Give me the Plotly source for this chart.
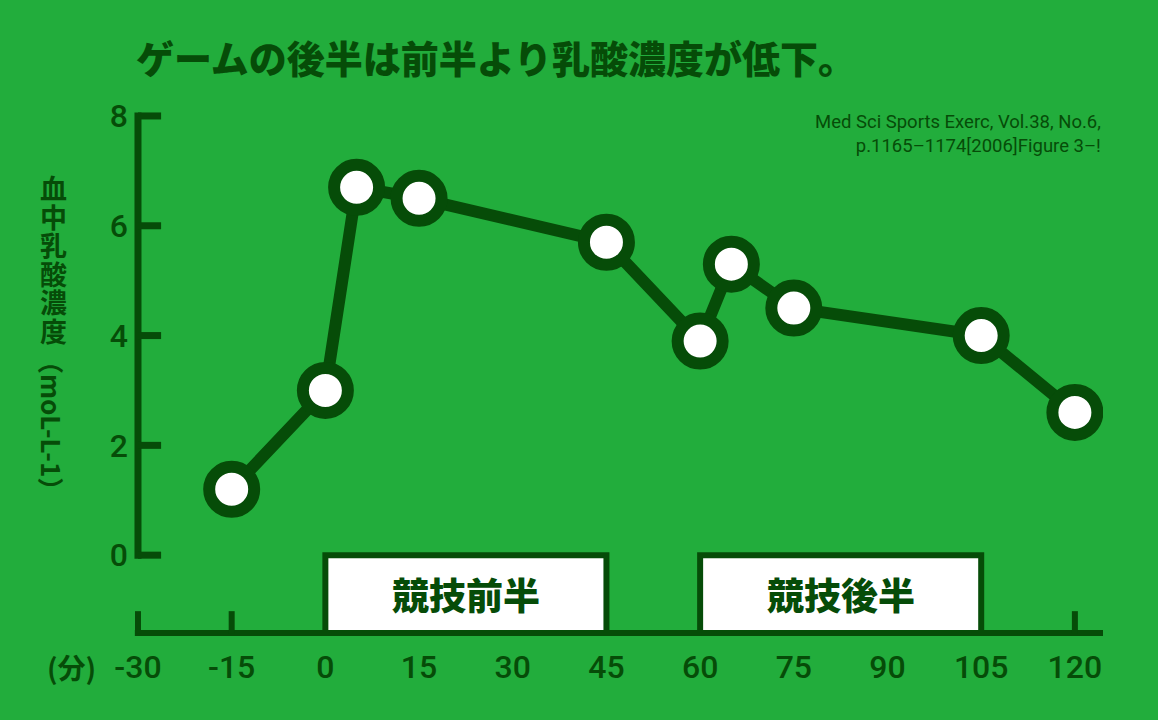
import plotly.graph_objects as go

# ---- data ----
minutes = [-15, 0, 5, 15, 45, 60, 65, 75, 105, 120]
lactate = [1.2, 3.0, 6.7, 6.5, 5.7, 3.9, 5.3, 4.5, 4.0, 2.6]

x_tickvals = [-30, -15, 0, 15, 30, 45, 60, 75, 90, 105, 120]
x_ticktext = ["-30", "-15", "0", "15", "30", "45", "60", "75", "90", "105", "120"]
x_tickmarks = [-30, -15, 120]
y_tickvals = [0, 2, 4, 6, 8]
y_ticktext = ["0", "2", "4", "6", "8"]

periods = [(0, 45, "競技前半"), (60, 105, "競技後半")]

title_text = "ゲームの後半は前半より乳酸濃度が低下。"
source_text = "Med Sci Sports Exerc, Vol.38, No.6,<br>p.1165–1174[2006]Figure 3–!"
ylabel_chars = "血中乳酸濃度"
ylabel_unit = "（moL-L-1）"
xunit_text = "(分)"

# ---- style ----
BG = "#22ad3c"
DARK = "#064c08"
CJK = "Noto Sans CJK JP"
NUM = "Roboto, sans-serif"

x_axis_y = -1.42
x_max = 124.5

fig = go.Figure()

shapes = []
# y axis line
shapes.append(dict(type="line", xref="x", yref="y", x0=-30, x1=-30, y0=-0.065, y1=8.065,
                   line=dict(color=DARK, width=7)))
for v in y_tickvals:
    shapes.append(dict(type="line", xref="x", yref="y", x0=-30, x1=-26.3, y0=v, y1=v,
                       line=dict(color=DARK, width=7)))
# period boxes
for a, b, lab in periods:
    shapes.append(dict(type="rect", xref="x", yref="y", x0=a, x1=b, y0=x_axis_y, y1=0,
                       fillcolor="white", line=dict(color=DARK, width=6), layer="below"))
# x axis line
shapes.append(dict(type="line", xref="x", yref="y", x0=-30.5, x1=x_max, y0=x_axis_y, y1=x_axis_y,
                   line=dict(color=DARK, width=6)))
for v in x_tickmarks:
    shapes.append(dict(type="line", xref="x", yref="y", x0=v, x1=v, y0=x_axis_y, y1=-1.02,
                       line=dict(color=DARK, width=6)))

fig.add_trace(go.Scatter(
    x=minutes, y=lactate, mode="lines+markers",
    line=dict(color=DARK, width=12),
    marker=dict(size=45, color="white", line=dict(color=DARK, width=12)),
    hoverinfo="x+y", showlegend=False,
))

annotations = []
for a, b, lab in periods:
    annotations.append(dict(x=(a + b) / 2, y=x_axis_y / 2, xref="x", yref="y", text=lab,
                            showarrow=False, font=dict(family=CJK, size=37, color=DARK, weight=900)))
# y label (vertical, stacked characters)
ylabel_html = "<br>".join(f"<span style='font-size:27px'>{c}</span>" for c in ylabel_chars)
annotations.append(dict(x=0, y=1, xref="paper", yref="paper", xshift=-60, yshift=-165,
                        text=ylabel_html, showarrow=False, xanchor="center", yanchor="middle",
                        font=dict(family=CJK, size=22, color=DARK, weight="bold")))
annotations.append(dict(x=0, y=1, xref="paper", yref="paper", xshift=-60, yshift=-331,
                        text=ylabel_unit, textangle=90, showarrow=False, xanchor="center", yanchor="middle",
                        font=dict(family=CJK, size=26, color=DARK, weight="bold")))
# x unit
annotations.append(dict(x=0, y=0, xref="paper", yref="paper", xshift=-42, yshift=-24,
                        text=xunit_text, showarrow=False, xanchor="center", yanchor="middle",
                        font=dict(family=CJK, size=28, color=DARK, weight="bold")))
# source
annotations.append(dict(x=1, y=1, xref="paper", yref="paper", yshift=-40, xanchor="right", yanchor="middle",
                        align="right", text=source_text, showarrow=False,
                        font=dict(family=NUM, size=18.5, color=DARK)))

fig.update_layout(
    width=1158, height=720,
    paper_bgcolor=BG, plot_bgcolor=BG,
    margin=dict(l=113, r=55, t=94, b=77),
    shapes=shapes, annotations=annotations,
    title=dict(text=title_text, xref="container", yref="container", x=136 / 1158, xanchor="left",
               y=1 - 60 / 720, yanchor="middle",
               font=dict(family=CJK, size=38, color=DARK, weight=900)),
    xaxis=dict(range=[-34, x_max], tickvals=x_tickvals, ticktext=x_ticktext, showgrid=False,
               zeroline=False, showline=False, ticks="", ticklabelstandoff=2,
               tickfont=dict(family=NUM, size=32, color=DARK, weight=500), fixedrange=True),
    yaxis=dict(range=[-1.6, 8.4], tickvals=y_tickvals, ticktext=y_ticktext, showgrid=False,
               zeroline=False, showline=False, ticks="", ticklabelstandoff=-16,
               tickfont=dict(family=NUM, size=32, color=DARK, weight=500), fixedrange=True),
)

fig.write_html("out.html", config={"displayModeBar": False},
               post_script="document.body.style.margin='0';")
